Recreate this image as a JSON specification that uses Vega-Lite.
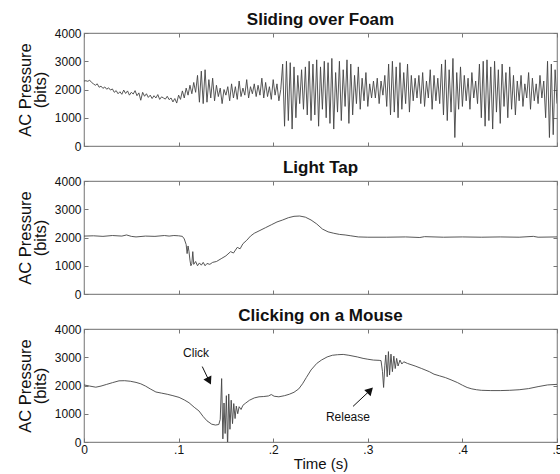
{
  "$schema": "https://vega.github.io/schema/vega-lite/v6.json",
  "background": "white",
  "padding": {"left": 16, "top": 10, "right": 0, "bottom": 0},
  "spacing": 5,
  "datasets": {
    "foam": [
      {"t":0.000,"v":2300},{"t":0.002,"v":2310},{"t":0.004,"v":2290},{"t":0.006,"v":2330},{"t":0.008,"v":2250},{"t":0.010,"v":2200},
      {"t":0.012,"v":2150},{"t":0.014,"v":2200},{"t":0.016,"v":2080},{"t":0.018,"v":2120},{"t":0.020,"v":2040},{"t":0.022,"v":2090},{"t":0.024,"v":2010},{"t":0.026,"v":2060},{"t":0.028,"v":1980},{"t":0.030,"v":2020},
      {"t":0.032,"v":1900},{"t":0.034,"v":1960},{"t":0.036,"v":1850},{"t":0.038,"v":1920},{"t":0.040,"v":1830},{"t":0.042,"v":1980},{"t":0.044,"v":1860},{"t":0.046,"v":1950},{"t":0.048,"v":1800},{"t":0.050,"v":1900},{"t":0.052,"v":1840},{"t":0.054,"v":1960},{"t":0.056,"v":1780},{"t":0.058,"v":1880},{"t":0.060,"v":1620},
      {"t":0.062,"v":1900},{"t":0.064,"v":1760},{"t":0.066,"v":1850},{"t":0.068,"v":1720},{"t":0.070,"v":1800},{"t":0.072,"v":1680},{"t":0.074,"v":1780},{"t":0.076,"v":1700},{"t":0.078,"v":1820},{"t":0.080,"v":1650},{"t":0.082,"v":1740},{"t":0.084,"v":1700},{"t":0.086,"v":1660},{"t":0.088,"v":1760},{"t":0.090,"v":1640},
      {"t":0.092,"v":1700},{"t":0.094,"v":1560},{"t":0.096,"v":1680},{"t":0.098,"v":1520},{"t":0.100,"v":1800},
      {"t":0.102,"v":1650},{"t":0.104,"v":1950},{"t":0.106,"v":1700},{"t":0.108,"v":2050},{"t":0.110,"v":1800},{"t":0.112,"v":2150},{"t":0.114,"v":1850},{"t":0.116,"v":2250},
      {"t":0.118,"v":1900},{"t":0.120,"v":2500},{"t":0.122,"v":1550},{"t":0.124,"v":2650},{"t":0.126,"v":1500},{"t":0.128,"v":2700},{"t":0.130,"v":1550},{"t":0.132,"v":2350},
      {"t":0.134,"v":1700},{"t":0.136,"v":2400},{"t":0.138,"v":1600},{"t":0.140,"v":2150},{"t":0.142,"v":1750},{"t":0.144,"v":2050},{"t":0.146,"v":1500},{"t":0.148,"v":2000},{"t":0.150,"v":1800},{"t":0.152,"v":2100},{"t":0.154,"v":1600},{"t":0.156,"v":2200},{"t":0.158,"v":1700},{"t":0.160,"v":2100},
      {"t":0.162,"v":1650},{"t":0.164,"v":2300},{"t":0.166,"v":1750},{"t":0.168,"v":2050},{"t":0.170,"v":1800},{"t":0.172,"v":2350},{"t":0.174,"v":1700},{"t":0.176,"v":2100},{"t":0.178,"v":1850},{"t":0.180,"v":2200},{"t":0.182,"v":1750},{"t":0.184,"v":2150},{"t":0.186,"v":1800},{"t":0.188,"v":2400},{"t":0.190,"v":1700},{"t":0.192,"v":2250},{"t":0.194,"v":1750},{"t":0.196,"v":2100},{"t":0.198,"v":1650},{"t":0.200,"v":2350},{"t":0.202,"v":1800},{"t":0.204,"v":2200},{"t":0.206,"v":1600},{"t":0.208,"v":2000},
      {"t":0.210,"v":2900},{"t":0.212,"v":700},{"t":0.214,"v":3000},{"t":0.216,"v":900},{"t":0.218,"v":2950},{"t":0.220,"v":600},{"t":0.222,"v":2800},{"t":0.224,"v":1000},{"t":0.226,"v":2500},
      {"t":0.228,"v":1500},{"t":0.230,"v":2700},{"t":0.232,"v":1300},{"t":0.234,"v":2800},{"t":0.236,"v":1100},
      {"t":0.238,"v":3000},{"t":0.240,"v":900},{"t":0.242,"v":2900},{"t":0.244,"v":1100},{"t":0.246,"v":3050},{"t":0.248,"v":700},{"t":0.250,"v":2800},{"t":0.252,"v":1300},{"t":0.254,"v":3000},{"t":0.256,"v":1000},{"t":0.258,"v":2950},{"t":0.260,"v":800},{"t":0.262,"v":3100},{"t":0.264,"v":600},{"t":0.266,"v":2600},{"t":0.268,"v":1200},{"t":0.270,"v":3000},{"t":0.272,"v":900},{"t":0.274,"v":2700},{"t":0.276,"v":1400},{"t":0.278,"v":3050},{"t":0.280,"v":800},{"t":0.282,"v":2900},{"t":0.284,"v":1100},{"t":0.286,"v":2500},{"t":0.288,"v":1500},{"t":0.290,"v":2800},{"t":0.292,"v":1300},{"t":0.294,"v":2400},{"t":0.296,"v":1600},{"t":0.298,"v":2600},{"t":0.300,"v":1400},{"t":0.302,"v":2200},{"t":0.304,"v":1700},{"t":0.306,"v":2300},
      {"t":0.308,"v":1700},{"t":0.310,"v":2400},{"t":0.312,"v":1500},{"t":0.314,"v":2300},{"t":0.316,"v":1800},{"t":0.318,"v":2500},{"t":0.320,"v":1400},
      {"t":0.322,"v":2900},{"t":0.324,"v":1100},{"t":0.326,"v":3000},{"t":0.328,"v":1200},{"t":0.330,"v":2800},{"t":0.332,"v":1000},{"t":0.334,"v":2950},{"t":0.336,"v":1300},{"t":0.338,"v":2600},{"t":0.340,"v":1500},{"t":0.342,"v":2900},{"t":0.344,"v":1200},{"t":0.346,"v":2500},{"t":0.348,"v":1600},{"t":0.350,"v":2400},
      {"t":0.352,"v":1700},{"t":0.354,"v":2500},{"t":0.356,"v":1500},{"t":0.358,"v":2600},{"t":0.360,"v":1400},{"t":0.362,"v":2300},{"t":0.364,"v":1700},{"t":0.366,"v":2700},{"t":0.368,"v":1300},{"t":0.370,"v":2500},{"t":0.372,"v":1600},{"t":0.374,"v":2400},{"t":0.376,"v":1500},
      {"t":0.378,"v":2900},{"t":0.380,"v":1100},{"t":0.382,"v":3050},{"t":0.384,"v":900},{"t":0.386,"v":2700},{"t":0.388,"v":1200},{"t":0.390,"v":3100},{"t":0.392,"v":300},{"t":0.394,"v":2600},{"t":0.396,"v":1300},{"t":0.398,"v":2800},
      {"t":0.400,"v":1400},{"t":0.402,"v":2500},{"t":0.404,"v":1600},{"t":0.406,"v":2400},{"t":0.408,"v":1300},{"t":0.410,"v":2600},{"t":0.412,"v":1700},{"t":0.414,"v":2300},{"t":0.416,"v":1500},
      {"t":0.418,"v":2900},{"t":0.420,"v":1000},{"t":0.422,"v":3000},{"t":0.424,"v":700},{"t":0.426,"v":3050},{"t":0.428,"v":900},{"t":0.430,"v":2800},{"t":0.432,"v":600},{"t":0.434,"v":3000},{"t":0.436,"v":1200},{"t":0.438,"v":2700},{"t":0.440,"v":800},{"t":0.442,"v":2900},{"t":0.444,"v":1400},{"t":0.446,"v":2600},{"t":0.448,"v":1000},{"t":0.450,"v":2800},{"t":0.452,"v":1300},{"t":0.454,"v":2500},{"t":0.456,"v":1100},
      {"t":0.458,"v":2300},{"t":0.460,"v":1600},{"t":0.462,"v":2500},{"t":0.464,"v":1400},{"t":0.466,"v":2200},{"t":0.468,"v":1700},{"t":0.470,"v":2600},{"t":0.472,"v":1300},{"t":0.474,"v":2400},{"t":0.476,"v":1600},{"t":0.478,"v":2200},{"t":0.480,"v":1500},{"t":0.482,"v":2500},{"t":0.484,"v":1700},{"t":0.486,"v":2300},
      {"t":0.488,"v":1000},{"t":0.490,"v":3000},{"t":0.492,"v":300},{"t":0.494,"v":2900},{"t":0.496,"v":400},{"t":0.498,"v":2700},{"t":0.500,"v":1500}
    ],
    "tap": [
      {"t":0.000,"v":2050},{"t":0.010,"v":2060},{"t":0.020,"v":2040},{"t":0.030,"v":2070},{"t":0.040,"v":2050},{"t":0.045,"v":2090},{"t":0.050,"v":2040},{"t":0.055,"v":2020},{"t":0.065,"v":2050},{"t":0.075,"v":2040},{"t":0.085,"v":2070},{"t":0.090,"v":2050},{"t":0.095,"v":2070},{"t":0.100,"v":2060},{"t":0.104,"v":2040},
      {"t":0.106,"v":1950},{"t":0.108,"v":1750},{"t":0.109,"v":1430},{"t":0.110,"v":1700},{"t":0.111,"v":1500},{"t":0.112,"v":1200},{"t":0.113,"v":1000},{"t":0.114,"v":1080},{"t":0.115,"v":1500},{"t":0.116,"v":1050},{"t":0.118,"v":1150},{"t":0.120,"v":1000},{"t":0.122,"v":1100},{"t":0.124,"v":1020},{"t":0.126,"v":1120},{"t":0.128,"v":1000},{"t":0.130,"v":1080},{"t":0.133,"v":1050},{"t":0.136,"v":1120},
      {"t":0.140,"v":1150},{"t":0.145,"v":1250},{"t":0.150,"v":1350},{"t":0.155,"v":1500},{"t":0.158,"v":1450},{"t":0.162,"v":1650},{"t":0.165,"v":1600},{"t":0.168,"v":1780},{"t":0.172,"v":1900},{"t":0.176,"v":2050},{"t":0.180,"v":2150},{"t":0.186,"v":2250},{"t":0.192,"v":2350},{"t":0.198,"v":2450},{"t":0.204,"v":2550},{"t":0.210,"v":2620},{"t":0.216,"v":2700},{"t":0.222,"v":2750},{"t":0.228,"v":2760},{"t":0.234,"v":2720},{"t":0.240,"v":2620},{"t":0.246,"v":2480},{"t":0.252,"v":2300},{"t":0.258,"v":2200},{"t":0.264,"v":2150},{"t":0.270,"v":2110},{"t":0.276,"v":2090},{"t":0.282,"v":2060},{"t":0.290,"v":2020},
      {"t":0.300,"v":2010},{"t":0.320,"v":2010},{"t":0.340,"v":2020},{"t":0.355,"v":2000},{"t":0.360,"v":2030},{"t":0.380,"v":2010},{"t":0.400,"v":2020},{"t":0.420,"v":2010},{"t":0.440,"v":2020},{"t":0.460,"v":2010},{"t":0.475,"v":2040},{"t":0.480,"v":2010},{"t":0.500,"v":2020}
    ],
    "click": [
      {"t":0.000,"v":2020},{"t":0.006,"v":1980},{"t":0.0125,"v":1940},{"t":0.018,"v":1980},{"t":0.024,"v":2040},{"t":0.030,"v":2100},{"t":0.037,"v":2165},{"t":0.043,"v":2170},{"t":0.049,"v":2150},{"t":0.055,"v":2110},{"t":0.060,"v":2060},{"t":0.065,"v":1980},{"t":0.070,"v":1880},{"t":0.076,"v":1770},{"t":0.082,"v":1730},{"t":0.088,"v":1690},{"t":0.094,"v":1640},{"t":0.1005,"v":1580},{"t":0.106,"v":1490},{"t":0.111,"v":1390},{"t":0.1165,"v":1230},{"t":0.1215,"v":1100},{"t":0.126,"v":900},{"t":0.130,"v":750},{"t":0.135,"v":630},{"t":0.139,"v":600},{"t":0.1425,"v":620},{"t":0.144,"v":800},
      {"t":0.1455,"v":2245},{"t":0.1468,"v":110},{"t":0.148,"v":1380},{"t":0.1492,"v":300},{"t":0.1505,"v":1640},{"t":0.1518,"v":-200},{"t":0.153,"v":1700},{"t":0.1543,"v":450},{"t":0.1556,"v":1480},{"t":0.157,"v":650},{"t":0.1583,"v":1360},{"t":0.1597,"v":830},{"t":0.161,"v":1270},{"t":0.1625,"v":1000},{"t":0.164,"v":1250},{"t":0.166,"v":1150},{"t":0.168,"v":1300},{"t":0.171,"v":1380},{"t":0.175,"v":1480},{"t":0.180,"v":1560},{"t":0.185,"v":1600},{"t":0.190,"v":1610},{"t":0.195,"v":1630},{"t":0.198,"v":1680},{"t":0.201,"v":1620},{"t":0.206,"v":1600},{"t":0.212,"v":1640},{"t":0.217,"v":1690},{"t":0.222,"v":1760},{"t":0.227,"v":1880},{"t":0.231,"v":2060},{"t":0.235,"v":2280},{"t":0.240,"v":2550},{"t":0.246,"v":2780},{"t":0.251,"v":2900},{"t":0.257,"v":3010},{"t":0.2625,"v":3070},{"t":0.268,"v":3090},{"t":0.274,"v":3100},{"t":0.280,"v":3070},{"t":0.289,"v":3010},{"t":0.295,"v":2960},{"t":0.300,"v":2930},{"t":0.306,"v":2900},{"t":0.312,"v":2890},{"t":0.314,"v":2880},
      {"t":0.3155,"v":2500},{"t":0.3167,"v":1930},{"t":0.318,"v":2700},{"t":0.319,"v":3080},{"t":0.3205,"v":2310},{"t":0.3218,"v":3200},{"t":0.323,"v":2370},{"t":0.3245,"v":3110},{"t":0.326,"v":2490},{"t":0.3275,"v":3040},{"t":0.329,"v":2600},{"t":0.3305,"v":2960},{"t":0.332,"v":2690},{"t":0.334,"v":2900},{"t":0.336,"v":2760},{"t":0.338,"v":2840},{"t":0.342,"v":2780},{"t":0.350,"v":2690},{"t":0.357,"v":2600},{"t":0.365,"v":2490},{"t":0.370,"v":2400},{"t":0.376,"v":2340},{"t":0.382,"v":2280},{"t":0.388,"v":2200},{"t":0.395,"v":2100},{"t":0.400,"v":2010},{"t":0.405,"v":1930},{"t":0.410,"v":1880},{"t":0.415,"v":1850},{"t":0.420,"v":1830},{"t":0.430,"v":1820},{"t":0.440,"v":1820},{"t":0.450,"v":1830},{"t":0.460,"v":1850},{"t":0.470,"v":1890},{"t":0.480,"v":1960},{"t":0.490,"v":2020},{"t":0.500,"v":2040}
    ]
  },
  "vconcat": [
    {
      "title": "Sliding over Foam",
      "width": 473, "height": 113,
      "data": {"name": "foam"},
      "layer": [
        {
          "mark": {"type": "line", "color": "#444", "strokeWidth": 0.9, "clip": true},
          "encoding": {
            "x": {"field": "t", "type": "quantitative", "scale": {"domain": [0, 0.5], "nice": false, "zero": false},
                  "axis": {"orient": "bottom", "values": [0, 0.1, 0.2, 0.3, 0.4, 0.5], "labels": false, "labelPadding": 0, "title": null}},
            "y": {"field": "v", "type": "quantitative", "scale": {"domain": [0, 4000], "nice": false},
                  "axis": {"orient": "left", "values": [0, 1000, 2000, 3000, 4000], "format": "d", "title": ["AC Pressure", "(bits)"]}}
          }
        },
        {
          "mark": {"type": "line", "strokeOpacity": 0},
          "encoding": {
            "x": {"field": "t", "type": "quantitative", "axis": {"orient": "top", "values": [0, 0.1, 0.2, 0.3, 0.4, 0.5], "labels": false, "labelPadding": 0, "title": null}},
            "y": {"field": "v", "type": "quantitative", "axis": {"orient": "right", "values": [0, 1000, 2000, 3000, 4000], "labels": false, "labelPadding": 0, "title": null}}
          }
        }
      ],
      "resolve": {"axis": {"x": "independent", "y": "independent"}}
    },
    {
      "title": "Light Tap",
      "width": 473, "height": 113,
      "data": {"name": "tap"},
      "layer": [
        {
          "mark": {"type": "line", "color": "#444", "strokeWidth": 0.9, "clip": true},
          "encoding": {
            "x": {"field": "t", "type": "quantitative", "scale": {"domain": [0, 0.5], "nice": false, "zero": false},
                  "axis": {"orient": "bottom", "values": [0, 0.1, 0.2, 0.3, 0.4, 0.5], "labels": false, "labelPadding": 0, "title": null}},
            "y": {"field": "v", "type": "quantitative", "scale": {"domain": [0, 4000], "nice": false},
                  "axis": {"orient": "left", "values": [0, 1000, 2000, 3000, 4000], "format": "d", "title": ["AC Pressure", "(bits)"]}}
          }
        },
        {
          "mark": {"type": "line", "strokeOpacity": 0},
          "encoding": {
            "x": {"field": "t", "type": "quantitative", "axis": {"orient": "top", "values": [0, 0.1, 0.2, 0.3, 0.4, 0.5], "labels": false, "labelPadding": 0, "title": null}},
            "y": {"field": "v", "type": "quantitative", "axis": {"orient": "right", "values": [0, 1000, 2000, 3000, 4000], "labels": false, "labelPadding": 0, "title": null}}
          }
        }
      ],
      "resolve": {"axis": {"x": "independent", "y": "independent"}}
    },
    {
      "title": "Clicking on a Mouse",
      "width": 473, "height": 113,
      "layer": [
        {
          "data": {"name": "click"},
          "mark": {"type": "line", "color": "#444", "strokeWidth": 0.9, "clip": true},
          "encoding": {
            "x": {"field": "t", "type": "quantitative", "scale": {"domain": [0, 0.5], "nice": false, "zero": false},
                  "axis": {"orient": "bottom", "values": [0, 0.1, 0.2, 0.3, 0.4, 0.5], "labelExpr": "datum.value == 0 ? '0' : '.' + format(datum.value * 10, 'd')", "labelPadding": 6, "title": "Time (s)"}},
            "y": {"field": "v", "type": "quantitative", "scale": {"domain": [0, 4000], "nice": false},
                  "axis": {"orient": "left", "values": [0, 1000, 2000, 3000, 4000], "format": "d", "title": ["AC Pressure", "(bits)"]}}
          }
        },
        {
          "data": {"name": "click"},
          "mark": {"type": "line", "strokeOpacity": 0},
          "encoding": {
            "x": {"field": "t", "type": "quantitative", "axis": {"orient": "top", "values": [0, 0.1, 0.2, 0.3, 0.4, 0.5], "labels": false, "labelPadding": 0, "title": null}},
            "y": {"field": "v", "type": "quantitative", "axis": {"orient": "right", "values": [0, 1000, 2000, 3000, 4000], "labels": false, "labelPadding": 0, "title": null}}
          }
        },
        {
          "data": {"values": [{"t": 0.1185, "v": 3150, "label": "Click"}, {"t": 0.2790, "v": 880, "label": "Release"}]},
          "mark": {"type": "text", "fontSize": 12, "color": "#111"},
          "encoding": {
            "x": {"field": "t", "type": "quantitative", "axis": null},
            "y": {"field": "v", "type": "quantitative", "axis": null},
            "text": {"field": "label"}
          }
        },
        {
          "data": {"values": [{"t0": 0.125, "v0": 2670, "t1": 0.1323, "v1": 2160}, {"t0": 0.2844, "v0": 1260, "t1": 0.3025, "v1": 1830}]},
          "mark": {"type": "rule", "color": "#111", "strokeWidth": 1},
          "encoding": {
            "x": {"field": "t0", "type": "quantitative", "axis": null},
            "y": {"field": "v0", "type": "quantitative", "axis": null},
            "x2": {"field": "t1"},
            "y2": {"field": "v1"}
          }
        },
        {
          "data": {"values": [{"t": 0.1323, "v": 2160}]},
          "mark": {"type": "point", "shape": "triangle-up", "filled": true, "color": "#111", "size": 80, "angle": 153, "opacity": 1},
          "encoding": {
            "x": {"field": "t", "type": "quantitative", "axis": null},
            "y": {"field": "v", "type": "quantitative", "axis": null}
          }
        },
        {
          "data": {"values": [{"t": 0.3025, "v": 1830}]},
          "mark": {"type": "point", "shape": "triangle-up", "filled": true, "color": "#111", "size": 80, "angle": 45, "opacity": 1},
          "encoding": {
            "x": {"field": "t", "type": "quantitative", "axis": null},
            "y": {"field": "v", "type": "quantitative", "axis": null}
          }
        }
      ],
      "resolve": {"axis": {"x": "independent", "y": "independent"}}
    }
  ],
  "config": {
    "font": "Liberation Sans",
    "view": {"stroke": "#8a8a8a", "strokeWidth": 1.2},
    "axis": {
      "domain": false, "grid": false,
      "tickSize": -4, "tickColor": "#777", "tickWidth": 1,
      "labelFontSize": 12, "labelColor": "#111", "labelPadding": 7, "labelFlush": false,
      "titleFontSize": 15, "titleFontWeight": "normal", "titleColor": "#111", "titleLineHeight": 15, "titlePadding": 6
    },
    "axisY": {"titleFontSize": 16.5, "titleLineHeight": 15},
    "axisX": {"titlePadding": 1},
    "title": {"fontSize": 17, "fontWeight": "bold", "offset": -2, "color": "#111"}
  }
}
